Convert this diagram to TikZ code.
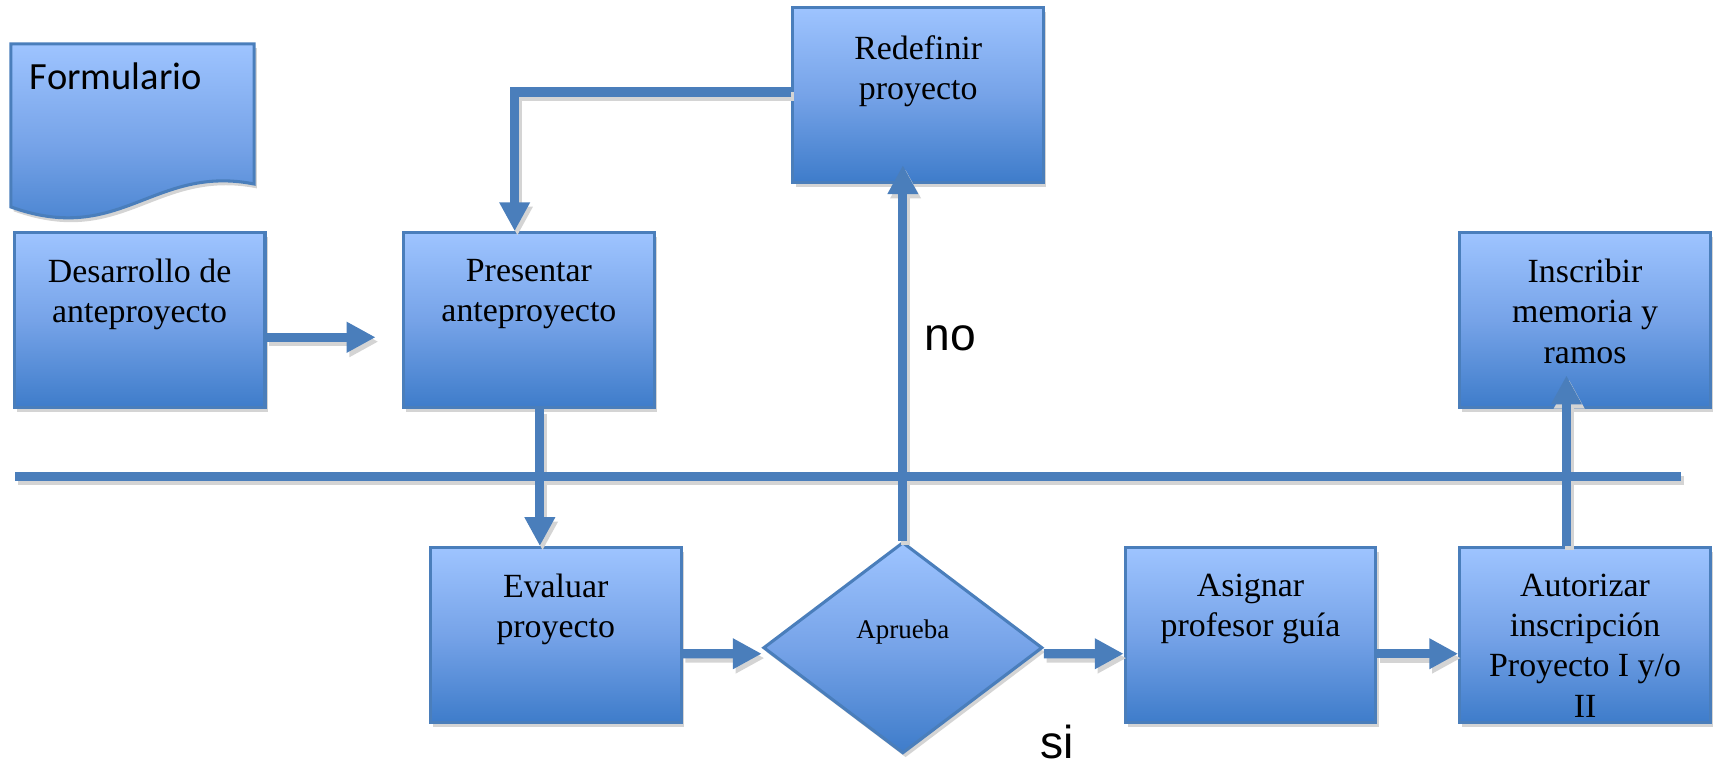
\documentclass[tikz,border=0pt]{standalone}
\usepackage{fontspec}
\setmainfont{Liberation Serif}
\newfontfamily\arialf{Liberation Sans}
\newfontfamily\calibrif{Carlito}
\usetikzlibrary{arrows.meta,shapes.geometric,shadows,calc}
\definecolor{edgeblue}{RGB}{74,126,187}
\definecolor{boxtop}{RGB}{158,196,255}
\definecolor{boxmid}{RGB}{118,163,232}
\definecolor{boxbot}{RGB}{62,124,202}
\definecolor{shadowgray}{RGB}{212,212,212}
\tikzset{
  fillstyle/.style={draw=edgeblue, line width=1.6pt, top color=boxtop, bottom color=boxbot, middle color=boxmid,
    drop shadow={shadow xshift=0.05cm, shadow yshift=-0.08cm, fill=shadowgray, opacity=1}},
  box/.style={fillstyle, minimum width=4.58cm, minimum height=3.2cm, inner sep=0pt},
  decision/.style={fillstyle, diamond, minimum width=5.1cm, minimum height=3.86cm, inner sep=0pt},
  boxtext/.style={font=\fontsize{17.6}{21}\selectfont, align=center, inner sep=0pt, anchor=north},
  flow/.style={draw=edgeblue, line width=4.8pt, -{Triangle[width=15pt,length=15pt]}},
  shadowflow/.style={draw=shadowgray, line width=4.8pt, -{Triangle[width=15pt,length=15pt]}},
  plainline/.style={draw=edgeblue, line width=4.8pt},
  shadowplain/.style={draw=shadowgray, line width=4.8pt},
  bigsans/.style={font=\arialf\fontsize{24}{28}\selectfont, inner sep=0pt},
}
\newcommand{\myconnectors}[2]{%
  \draw[#2] (hl) -- (hr);
  \draw[#1] (des.east |- desTip) -- (desTip);
  \draw[#1] ($(redef.west)+(0,-2.5)$) -| ($(pres.north)+(-13,0)$);
  \draw[#1] ($(pres.south)+(10,0)$) -- ($(eval.north)+(-14.5,0)$);
  \draw[#1] ($(eval.east)+(0,17)$) -- ($(apr.west)+(0,5.5)$);
  \draw[#1] ($(apr.east)+(0,5.5)$) -- ($(asig.west)+(0,17)$);
  \draw[#1] ($(asig.east)+(0,17)$) -- ($(aut.west)+(0,17)$);
  \draw[#1] (apr.north) -- ($(redef.south)+(-14,-17)$);
  \draw[#1] ($(aut.north)+(-17,0)$) -- ($(insc.south)+(-17,-31)$);
}
\begin{document}
\begin{tikzpicture}[x=0.02cm, y=-0.02cm]
\useasboundingbox (0,0) rectangle (1568,700);

% Formulario document shape
\path[fillstyle] (10,40) -- (232,40) -- (232,168) .. controls (140,150) and (110,225) .. (10,189) -- cycle;
\node[font=\calibrif\fontsize{20}{24}\selectfont, anchor=west, inner sep=0pt] (formT) at (27,70) {Formulario};

% separator line ends
\coordinate (hl) at (14,435);
\coordinate (hr) at (1535,435);
\coordinate (desTip) at (343,308);

% boxes
\node[box] (des) at (127.5,292.5) {};
\node[box] (pres) at (483,292.5) {};
\node[box] (redef) at (838.5,86.5) {};
\node[box] (insc) at (1447.5,292.5) {};
\node[box] (eval) at (507.5,580) {};
\node[box] (asig) at (1142,580) {};
\node[box] (aut) at (1447.5,580) {};
\node[decision] (apr) at (824.5,591.5) {};

% connector shadows, then connectors
\begin{scope}[transform canvas={shift={(0.05cm,-0.08cm)}}]
  \myconnectors{shadowflow}{shadowplain}
\end{scope}
\myconnectors{flow}{plainline}

% texts
\node[boxtext] (desT) at ($(des.north)+(0,25)$) {Desarrollo de\\anteproyecto};
\node[boxtext] (presT) at ($(pres.north)+(0,25)$) {Presentar\\anteproyecto};
\node[boxtext] (redefT) at ($(redef.north)+(0,27)$) {Redefinir\\proyecto};
\node[boxtext] (inscT) at ($(insc.north)+(0,25)$) {Inscribir\\memoria y\\ramos};
\node[boxtext] (evalT) at ($(eval.north)+(0,25)$) {Evaluar\\proyecto};
\node[boxtext] (asigT) at ($(asig.north)+(0,25)$) {Asignar\\profesor guía};
\node[boxtext] (autT) at ($(aut.north)+(0,25)$) {Autorizar\\inscripción\\Proyecto I y/o\\II};
\node[font=\fontsize{14}{17}\selectfont, inner sep=0pt, anchor=base] (aprT) at (824.5,583) {Aprueba};

\node[bigsans] (noT) at (868,309) {no};
\node[bigsans] (siT) at (965,678) {si};
\end{tikzpicture}
\end{document}
